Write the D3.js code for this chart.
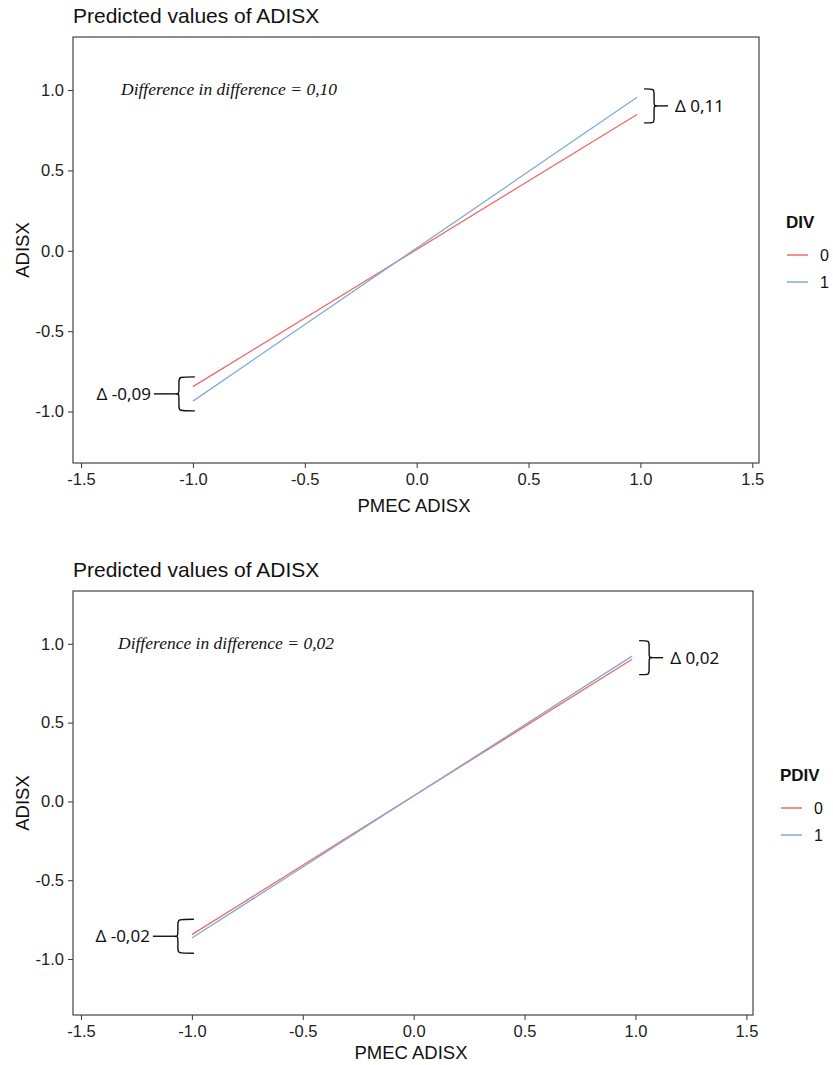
<!DOCTYPE html>
<html>
<head>
<meta charset="utf-8">
<script src="https://cdn.jsdelivr.net/npm/d3@7"></script>
<style>
  body { margin: 0; background: #fff; }
  svg { display: block; }
</style>
</head>
<body>
<svg id="chart" width="833" height="1065"></svg>
<script>
// ---- data ----
const xTicks = [-1.5, -1, -0.5, 0, 0.5, 1, 1.5]
const yTicks = [-1, -0.5, 0, 0.5, 1]
const groups = ['0', '1']
const predX = [-1, 0.985]            // PMEC ADISX range of the prediction lines
const divPred0 = [-0.845, 0.848]     // DIV = 0
const divPred1 = [-0.935, 0.955]     // DIV = 1
const pdivPred0 = [-0.845, 0.902]    // PDIV = 0
const pdivPred1 = [-0.866, 0.922]    // PDIV = 1
const didLabels = ['0,10', '0,02']
const deltaLow = ['-0,09', '-0,02']
const deltaHigh = ['0,11', '0,02']
const legendTitles = ['DIV', 'PDIV']

const colors = { '0': '#ee6a6a', '1': '#82aad6' }
const sans = 'Liberation Sans, Arial, sans-serif'
const calibri = 'Noto Sans, Open Sans, sans-serif'

const svg = d3.select('#chart')

const panels = [
  { top: 37, bottom: 463, left: 73, right: 759, xDom: [-1.536, 1.53], yDom: [-1.32, 1.33], xTitleOff: 49,
    series: [divPred0, divPred1], did: didLabels[0], lo: deltaLow[0], hi: deltaHigh[0], legend: legendTitles[0] },
  { top: 591, bottom: 1015, left: 73, right: 753, xDom: [-1.536, 1.53], yDom: [-1.355, 1.335], xTitleOff: 44,
    series: [pdivPred0, pdivPred1], did: didLabels[1], lo: deltaLow[1], hi: deltaHigh[1], legend: legendTitles[1] }
]

// curly brace, tips at x0, pointing to xp, spanning y0..y1
function brace (x0, xs, xp, y0, y1) {
  const ym = (y0 + y1) / 2
  const r = 5
  return `M${x0},${y0} C${xs},${y0} ${xs},${y0} ${xs},${y0 + r * Math.sign(y1 - y0)}` +
    ` L${xs},${ym - r} C${xs},${ym} ${xs},${ym} ${xp},${ym}` +
    ` C${xs},${ym} ${xs},${ym} ${xs},${ym + r} L${xs},${y1 - r} C${xs},${y1} ${xs},${y1} ${x0},${y1}`
}

panels.forEach((p, pi) => {
  const x = d3.scaleLinear().domain(p.xDom).range([p.left, p.right])
  const y = d3.scaleLinear().domain(p.yDom).range([p.bottom, p.top])
  const g = svg.append('g')

  // title
  g.append('text')
    .attr('x', p.left)
    .attr('y', p.top - 14)
    .style('font-family', sans)
    .style('font-size', '21px')
    .style('fill', '#111')
    .text('Predicted values of ADISX')

  // axes
  const xAxis = g.append('g')
    .attr('transform', `translate(0,${p.bottom})`)
    .call(d3.axisBottom(x).tickValues(xTicks).tickFormat(d3.format('.1f')).tickSize(5).tickPadding(5))
  const yAxis = g.append('g')
    .attr('transform', `translate(${p.left},0)`)
    .call(d3.axisLeft(y).tickValues(yTicks).tickFormat(d3.format('.1f')).tickSize(5).tickPadding(4))
  ;[xAxis, yAxis].forEach(a => {
    a.select('.domain').remove()
    a.selectAll('line').attr('stroke', '#333')
    a.selectAll('text')
      .style('font-family', sans)
      .style('font-size', '16.5px')
      .style('fill', '#222')
      .text(function () { return this.textContent.replace('−', '-') })
  })

  // panel border
  g.append('rect')
    .attr('x', p.left)
    .attr('y', p.top)
    .attr('width', p.right - p.left)
    .attr('height', p.bottom - p.top)
    .attr('fill', 'none')
    .attr('stroke', '#444')
    .attr('stroke-width', 1.2)

  // axis titles
  g.append('text')
    .attr('x', (p.left + p.right) / 2 - 2)
    .attr('y', p.bottom + p.xTitleOff)
    .attr('text-anchor', 'middle')
    .style('font-family', sans)
    .style('font-size', '18.5px')
    .style('fill', '#111')
    .text('PMEC ADISX')
  g.append('text')
    .attr('transform', `translate(29,${(p.top + p.bottom) / 2}) rotate(-90)`)
    .attr('text-anchor', 'middle')
    .style('font-family', sans)
    .style('font-size', '18.5px')
    .style('fill', '#111')
    .text('ADISX')

  // prediction lines
  const line = d3.line().x(d => x(d[0])).y(d => y(d[1]))
  p.series.forEach((s, i) => {
    g.append('path')
      .datum(predX.map((v, k) => [v, s[k]]))
      .attr('d', line)
      .attr('fill', 'none')
      .attr('stroke', colors[groups[i]])
      .attr('stroke-width', 1.3)
  })

  // difference-in-difference note
  g.append('text')
    .attr('x', pi === 0 ? 121 : 118)
    .attr('y', y(1.0) + 5)
    .style('font-family', 'Liberation Serif, Times New Roman, serif')
    .style('font-style', 'italic')
    .style('font-size', '17.5px')
    .style('fill', '#111')
    .text(`Difference in difference = ${p.did}`)

  // brackets
  const yHi = (y(p.series[0][1]) + y(p.series[1][1])) / 2
  const yLo = (y(p.series[0][0]) + y(p.series[1][0])) / 2
  const xHi = x(predX[1])
  const xLo = x(predX[0])
  const bg = g.append('g').attr('fill', 'none').attr('stroke', '#111').attr('stroke-width', 1.4)
  bg.append('path').attr('d', brace(xHi + 7, xHi + 17, xHi + 21, yHi - 17, yHi + 17))
  bg.append('line').attr('x1', xHi + 21).attr('x2', xHi + 31).attr('y1', yHi).attr('y2', yHi)
  bg.append('path').attr('d', brace(xLo + 2, xLo - 14, xLo - 18, yLo - 17, yLo + 17))
  bg.append('line').attr('x1', xLo - 18).attr('x2', xLo - 39).attr('y1', yLo).attr('y2', yLo)

  g.append('text')
    .attr('x', xHi + 38)
    .attr('y', yHi)
    .attr('dy', '0.35em')
    .style('font-family', calibri)
    .style('font-size', '17px')
    .style('fill', '#111')
    .text(`Δ ${p.hi}`)
  g.append('text')
    .attr('x', xLo - 42)
    .attr('y', yLo)
    .attr('dy', '0.35em')
    .attr('text-anchor', 'end')
    .style('font-family', calibri)
    .style('font-size', '17px')
    .style('fill', '#111')
    .text(`Δ ${p.lo}`)

  // legend
  const lx = p.right + 20
  const ly = (p.top + p.bottom) / 2
  const lg = g.append('g')
  lg.append('text')
    .attr('x', lx + 7)
    .attr('y', ly - 22)
    .style('font-family', sans)
    .style('font-size', '17px')
    .style('font-weight', 'bold')
    .style('fill', '#111')
    .text(p.legend)
  groups.forEach((grp, i) => {
    const yy = ly + 5 + i * 27
    lg.append('line')
      .attr('x1', lx + 8).attr('x2', lx + 29)
      .attr('y1', yy).attr('y2', yy)
      .attr('stroke', colors[grp])
      .attr('stroke-width', 1.5)
    lg.append('text')
      .attr('x', lx + 41)
      .attr('y', yy)
      .attr('dy', '0.35em')
      .style('font-family', sans)
      .style('font-size', '16px')
      .style('fill', '#111')
      .text(grp)
  })
})
</script>
</body>
</html>
